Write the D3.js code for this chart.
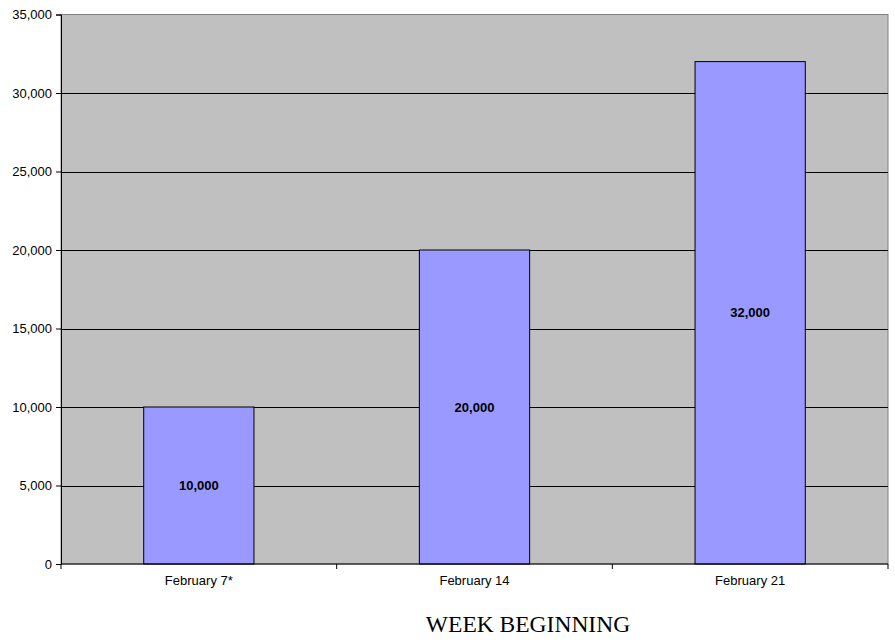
<!DOCTYPE html>
<html><head><meta charset="utf-8">
<script src="https://cdn.jsdelivr.net/npm/d3@7"></script>
<style>body{margin:0;background:#fff}</style>
</head><body>
<svg id="c" width="895" height="643"></svg>
<script>
const categories = ["February 7*", "February 14", "February 21"];
const values = [10000, 20000, 32000];
const yTicks = [0, 5000, 10000, 15000, 20000, 25000, 30000, 35000];
const xTitle = "WEEK BEGINNING";

const svg = d3.select("#c");
const L = 61, R = 888, T = 14.5, B = 564;
const x = d3.scaleBand().domain(categories).range([L, R]).paddingInner(0.6).paddingOuter(0.3);
const y = d3.scaleLinear().domain([0, 35000]).range([B, T]);
const fmt = d3.format(",");

svg.append("rect").attr("x", L).attr("y", T).attr("width", R - L).attr("height", B - T)
  .attr("fill", "#C0C0C0").attr("stroke", "#808080").attr("stroke-width", 1);

svg.append("g").selectAll("line").data(yTicks.filter(d => d > 0 && d < 35000)).join("line")
  .attr("x1", L).attr("x2", R).attr("y1", d => Math.round(y(d)) + 0.5).attr("y2", d => Math.round(y(d)) + 0.5)
  .attr("stroke", "#000").attr("stroke-width", 1);

svg.append("g").selectAll("rect").data(values).join("rect")
  .attr("x", (d, i) => x(categories[i])).attr("width", x.bandwidth())
  .attr("y", d => y(d)).attr("height", d => B - y(d))
  .attr("fill", "#9999FF").attr("stroke", "#000").attr("stroke-width", 1);

svg.append("g").selectAll("text").data(values).join("text")
  .attr("x", (d, i) => x(categories[i]) + x.bandwidth() / 2)
  .attr("y", d => (y(d) + B) / 2 + 4.5)
  .attr("text-anchor", "middle").attr("font-family", "Liberation Sans, Arial, sans-serif")
  .attr("font-size", 13).attr("font-weight", "bold").attr("fill", "#000")
  .text(d => fmt(d));

// y axis
const yAxis = d3.axisLeft(y).tickValues(yTicks).tickFormat(fmt).tickSize(5).tickPadding(4);
const gy = svg.append("g").attr("transform", `translate(${L},0)`).call(yAxis);
gy.select(".domain").attr("stroke", "#000");
gy.selectAll(".tick line").attr("stroke", "#000");
gy.selectAll("text").attr("font-family", "Liberation Sans, Arial, sans-serif").attr("font-size", 13).attr("fill", "#000");

// x axis
const gx = svg.append("g").attr("transform", `translate(0,${B})`);
gx.append("line").attr("x1", L).attr("x2", R).attr("y1", 0).attr("y2", 0).attr("stroke", "#000");
const bounds = d3.range(categories.length + 1).map(i => L + i * (R - L) / categories.length);
gx.selectAll("line.t").data(bounds).join("line").attr("class", "t")
  .attr("x1", d => d).attr("x2", d => d).attr("y1", 0).attr("y2", 5).attr("stroke", "#000");
gx.selectAll("text").data(categories).join("text")
  .attr("x", d => x(d) + x.bandwidth() / 2).attr("y", 21)
  .attr("text-anchor", "middle").attr("font-family", "Liberation Sans, Arial, sans-serif")
  .attr("font-size", 13).attr("fill", "#000").text(d => d);

svg.append("text").attr("x", 528).attr("y", 632).attr("text-anchor", "middle")
  .attr("font-family", "Liberation Serif, Times New Roman, serif").attr("font-size", 23.5)
  .attr("fill", "#000").text(xTitle);
</script>
</body></html>
